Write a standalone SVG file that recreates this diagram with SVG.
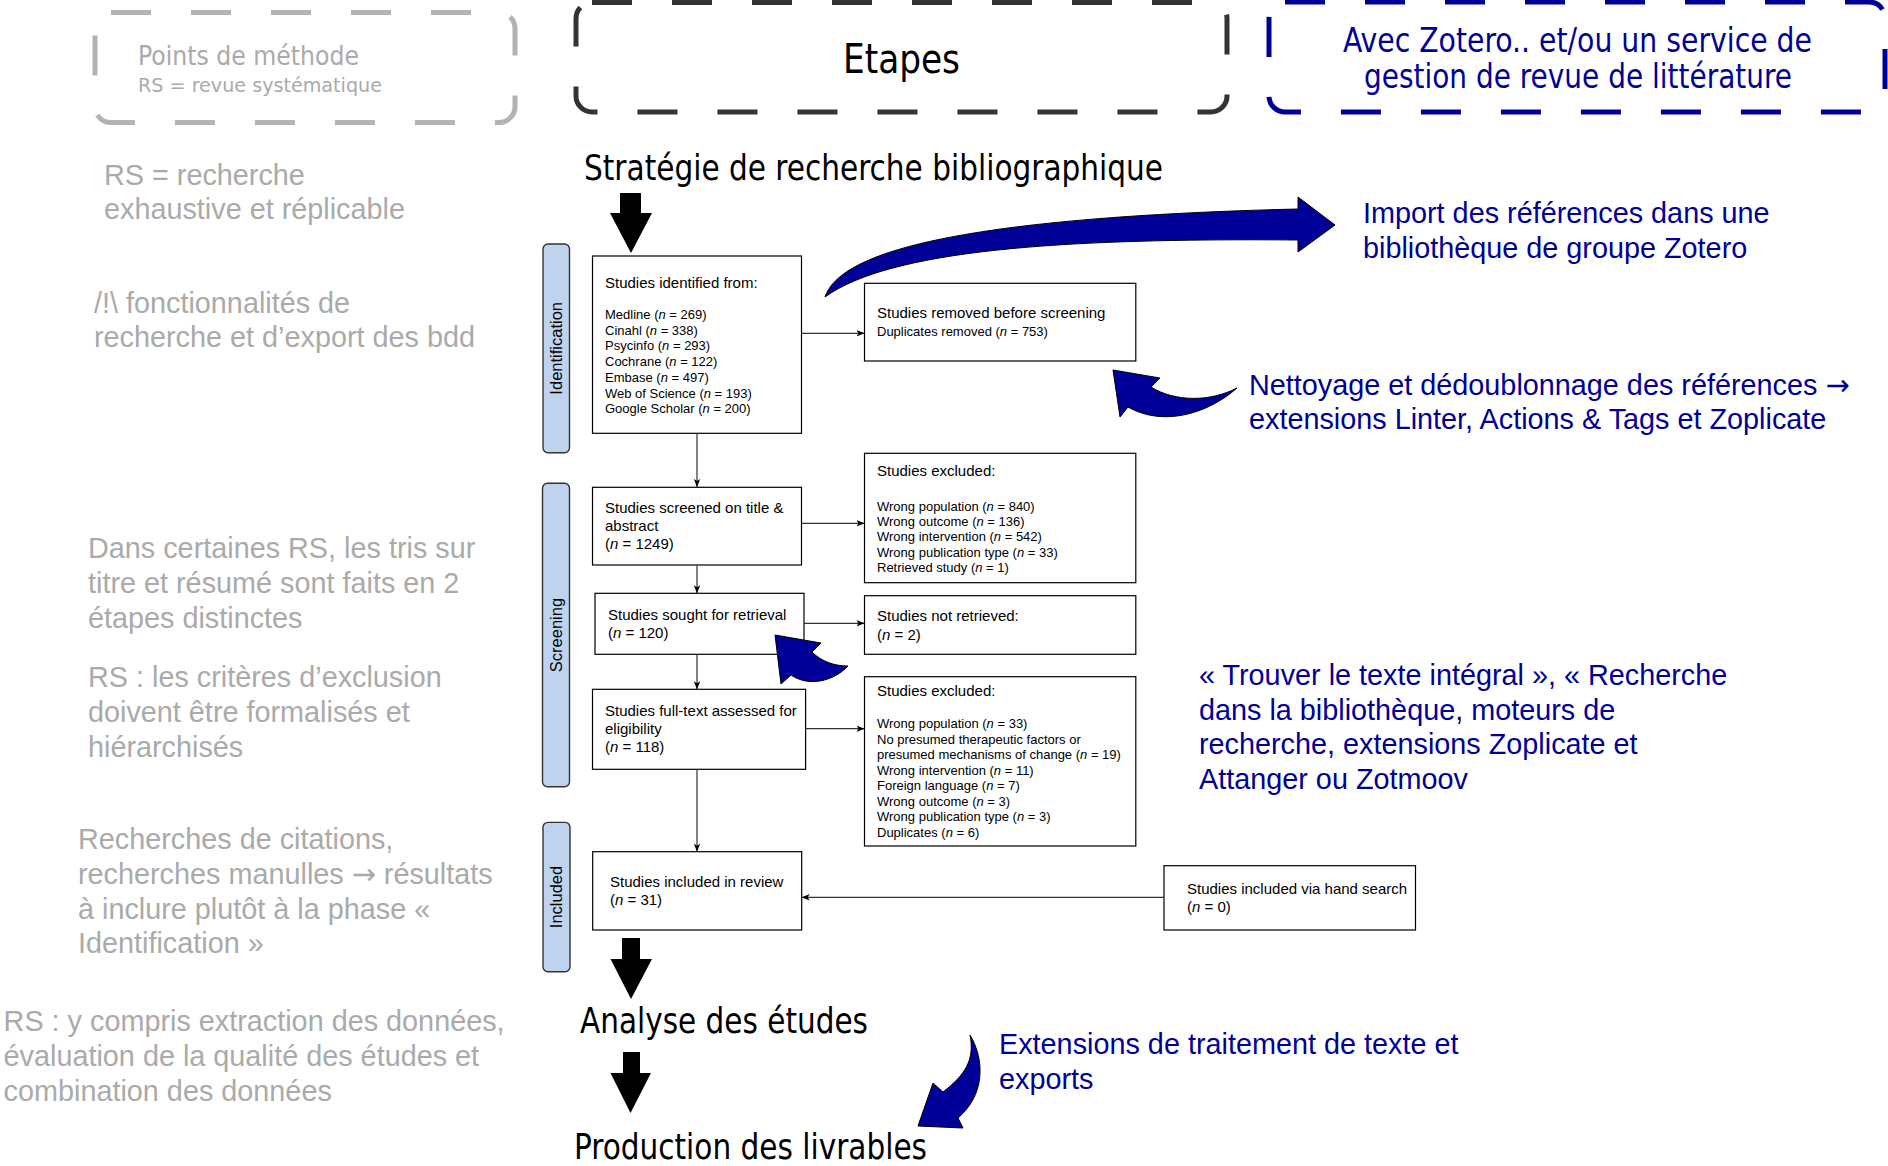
<svg xmlns="http://www.w3.org/2000/svg" width="1888" height="1166" viewBox="0 0 1888 1166">
<defs>
<marker id="ah" viewBox="0 0 10 10" refX="10" refY="5" markerWidth="8" markerHeight="8" markerUnits="userSpaceOnUse" orient="auto">
<path d="M0,1 L10,5 L0,9 L2.5,5 z" fill="#000"/>
</marker>
<style>
.box{fill:#fff;stroke:#000;stroke-width:1.2}
.lbl{fill:#bfd3ee;stroke:#333;stroke-width:1.4}
.ar{font-family:"Liberation Sans",Arial,sans-serif;fill:#000}
.t15{font-size:15px}
.t13{font-size:13px}
.i{font-style:italic}
.gray{font-family:"Liberation Sans",Arial,sans-serif;font-size:28.8px;fill:#aaaaaa}
.blue{font-family:"Liberation Sans",Arial,sans-serif;font-size:28.8px;fill:#000099}
.arr{font-family:"DejaVu Sans",sans-serif}
.cond{font-family:"DejaVu Sans Condensed","DejaVu Sans",sans-serif;font-stretch:condensed}
.dash{fill:none;stroke-width:5;stroke-dasharray:40 40}
.conn{fill:none;stroke:#333;stroke-width:1.2;marker-end:url(#ah)}
.big{fill:#000}
.curv{fill:#000099;stroke:#000;stroke-width:1}
</style>
</defs>

<g id="methode">
<rect class="dash" x="95" y="12.5" width="420" height="110" rx="16" stroke="#b3b3b3"/>
<text class="cond" x="138" y="65" font-size="26" fill="#aaaaaa" textLength="221" lengthAdjust="spacingAndGlyphs">Points de méthode</text>
<text class="cond" x="138" y="92" font-size="20" fill="#aaaaaa" textLength="244" lengthAdjust="spacingAndGlyphs">RS = revue systématique</text>
</g>

<g id="etapes">
<rect class="dash" x="576" y="2.5" width="651" height="109.5" rx="16" stroke="#333333"/>
<text class="cond" x="843" y="73.3" font-size="40" fill="#000" textLength="117" lengthAdjust="spacingAndGlyphs">Etapes</text>
</g>

<g id="zotero">
<rect class="dash" x="1269" y="2" width="616" height="110" rx="16" stroke="#000099"/>
<text class="cond" x="1343" y="52" font-size="33" fill="#000099" textLength="469" lengthAdjust="spacingAndGlyphs">Avec Zotero.. et/ou un service de</text>
<text class="cond" x="1364" y="88" font-size="33" fill="#000099" textLength="428" lengthAdjust="spacingAndGlyphs">gestion de revue de littérature</text>
</g>

<g id="notes-gray">
<text class="gray" x="104" y="185">RS = recherche</text>
<text class="gray" x="104" y="219">exhaustive et réplicable</text>
<text class="gray" x="94" y="313">/!\ fonctionnalités de</text>
<text class="gray" x="94" y="347">recherche et d’export des bdd</text>
<text class="gray" x="88" y="558">Dans certaines RS, les tris sur</text>
<text class="gray" x="88" y="593">titre et résumé sont faits en 2</text>
<text class="gray" x="88" y="628">étapes distinctes</text>
<text class="gray" x="88" y="687">RS : les critères d’exclusion</text>
<text class="gray" x="88" y="722">doivent être formalisés et</text>
<text class="gray" x="88" y="757">hiérarchisés</text>
<text class="gray" x="78" y="849">Recherches de citations,</text>
<text class="gray" x="78" y="884">recherches manulles <tspan class="arr">→</tspan> résultats</text>
<text class="gray" x="78" y="918.5">à inclure plutôt à la phase «</text>
<text class="gray" x="78" y="952.5">Identification »</text>
<text class="gray" x="3.6" y="1031">RS : y compris extraction des données,</text>
<text class="gray" x="3.6" y="1066">évaluation de la qualité des études et</text>
<text class="gray" x="3.6" y="1101">combination des données</text>
</g>

<g id="notes-blue">
<text class="blue" x="1363" y="222.7">Import des références dans une</text>
<text class="blue" x="1363" y="257.5">bibliothèque de groupe Zotero</text>
<text class="blue" x="1249" y="394.5">Nettoyage et dédoublonnage des références <tspan class="arr">→</tspan></text>
<text class="blue" x="1249" y="429">extensions Linter, Actions &amp; Tags et Zoplicate</text>
<text class="blue" x="1199" y="684.5">« Trouver le texte intégral », « Recherche</text>
<text class="blue" x="1199" y="719.5">dans la bibliothèque, moteurs de</text>
<text class="blue" x="1199" y="753.5">recherche, extensions Zoplicate et</text>
<text class="blue" x="1199" y="788.5">Attanger ou Zotmoov</text>
<text class="blue" x="999" y="1054">Extensions de traitement de texte et</text>
<text class="blue" x="999" y="1088.5">exports</text>
</g>

<g id="heading-strategie">
<text class="cond" x="584" y="180" font-size="36" fill="#000" textLength="579" lengthAdjust="spacingAndGlyphs">Stratégie de recherche bibliographique</text>
</g>
<g id="heading-analyse">
<text class="cond" x="580" y="1033" font-size="36" fill="#000" textLength="288" lengthAdjust="spacingAndGlyphs">Analyse des études</text>
</g>
<g id="heading-production">
<text class="cond" x="574" y="1159" font-size="36" fill="#000" textLength="353" lengthAdjust="spacingAndGlyphs">Production des livrables</text>
</g>

<g id="label-identification">
<rect class="lbl" x="543" y="244" width="26.5" height="208.7" rx="5"/>
<text class="ar" text-anchor="middle" transform="translate(562,348.3) rotate(-90)" font-size="16.5">Identification</text>
</g>
<g id="label-screening">
<rect class="lbl" x="542.5" y="483.3" width="27" height="303.4" rx="5"/>
<text class="ar" text-anchor="middle" transform="translate(562,635) rotate(-90)" font-size="16.5">Screening</text>
</g>
<g id="label-included">
<rect class="lbl" x="543" y="822.4" width="27" height="149.3" rx="5"/>
<text class="ar" text-anchor="middle" transform="translate(562,897) rotate(-90)" font-size="16.5">Included</text>
</g>

<g id="box-identified">
<rect class="box" x="592.5" y="256" width="209" height="177.3"/>
<text class="ar t15" x="605" y="287.5">Studies identified from:</text>
<text class="ar t13" x="605" y="319">Medline (<tspan class="i">n</tspan> = 269)</text>
<text class="ar t13" x="605" y="334.7">Cinahl (<tspan class="i">n</tspan> = 338)</text>
<text class="ar t13" x="605" y="350.4">Psycinfo (<tspan class="i">n</tspan> = 293)</text>
<text class="ar t13" x="605" y="366.1">Cochrane (<tspan class="i">n</tspan> = 122)</text>
<text class="ar t13" x="605" y="381.8">Embase (<tspan class="i">n</tspan> = 497)</text>
<text class="ar t13" x="605" y="397.5">Web of Science (<tspan class="i">n</tspan> = 193)</text>
<text class="ar t13" x="605" y="413.2">Google Scholar (<tspan class="i">n</tspan> = 200)</text>
</g>

<g id="box-removed">
<rect class="box" x="864.5" y="283.3" width="271.3" height="77.7"/>
<text class="ar t15" x="877" y="318">Studies removed before screening</text>
<text class="ar t13" x="877" y="335.5">Duplicates removed (<tspan class="i">n</tspan> = 753)</text>
</g>

<g id="box-screened">
<rect class="box" x="592.5" y="487.3" width="209" height="77.7"/>
<text class="ar t15" x="605" y="513">Studies screened on title &amp;</text>
<text class="ar t15" x="605" y="531">abstract</text>
<text class="ar t15" x="605" y="548.5">(<tspan class="i">n</tspan> = 1249)</text>
</g>

<g id="box-excluded1">
<rect class="box" x="864.5" y="453.3" width="271.3" height="129.4"/>
<text class="ar t15" x="877" y="475.5">Studies excluded:</text>
<text class="ar t13" x="877" y="510.5">Wrong population (<tspan class="i">n</tspan> = 840)</text>
<text class="ar t13" x="877" y="525.9">Wrong outcome (<tspan class="i">n</tspan> = 136)</text>
<text class="ar t13" x="877" y="541.3">Wrong intervention (<tspan class="i">n</tspan> = 542)</text>
<text class="ar t13" x="877" y="556.7">Wrong publication type (<tspan class="i">n</tspan> = 33)</text>
<text class="ar t13" x="877" y="572.1">Retrieved study (<tspan class="i">n</tspan> = 1)</text>
</g>

<g id="box-sought">
<rect class="box" x="595" y="593.3" width="209" height="61"/>
<text class="ar t15" x="608" y="619.5">Studies sought for retrieval</text>
<text class="ar t15" x="608" y="638">(<tspan class="i">n</tspan> = 120)</text>
</g>

<g id="box-notretrieved">
<rect class="box" x="864.5" y="595.7" width="271.3" height="58.6"/>
<text class="ar t15" x="877" y="621">Studies not retrieved:</text>
<text class="ar t15" x="877" y="639.5">(<tspan class="i">n</tspan> = 2)</text>
</g>

<g id="box-fulltext">
<rect class="box" x="592.5" y="689.3" width="213.1" height="80"/>
<text class="ar t15" x="605" y="716">Studies full-text assessed for</text>
<text class="ar t15" x="605" y="734">eligibility</text>
<text class="ar t15" x="605" y="752">(<tspan class="i">n</tspan> = 118)</text>
</g>

<g id="box-excluded2">
<rect class="box" x="864.5" y="676.7" width="271.3" height="169.3"/>
<text class="ar t15" x="877" y="696">Studies excluded:</text>
<text class="ar t13" x="877" y="728.2">Wrong population (<tspan class="i">n</tspan> = 33)</text>
<text class="ar t13" x="877" y="743.7">No presumed therapeutic factors or</text>
<text class="ar t13" x="877" y="759.2">presumed mechanisms of change (<tspan class="i">n</tspan> = 19)</text>
<text class="ar t13" x="877" y="774.7">Wrong intervention (<tspan class="i">n</tspan> = 11)</text>
<text class="ar t13" x="877" y="790.2">Foreign language (<tspan class="i">n</tspan> = 7)</text>
<text class="ar t13" x="877" y="805.7">Wrong outcome (<tspan class="i">n</tspan> = 3)</text>
<text class="ar t13" x="877" y="821.2">Wrong publication type (<tspan class="i">n</tspan> = 3)</text>
<text class="ar t13" x="877" y="836.7">Duplicates (<tspan class="i">n</tspan> = 6)</text>
</g>

<g id="box-included">
<rect class="box" x="592.7" y="851.7" width="209" height="78.3"/>
<text class="ar t15" x="610" y="886.5">Studies included in review</text>
<text class="ar t15" x="610" y="904.5">(<tspan class="i">n</tspan> = 31)</text>
</g>

<g id="box-handsearch">
<rect class="box" x="1164" y="865.7" width="251.5" height="64.3"/>
<text class="ar t15" x="1187" y="893.5">Studies included via hand search</text>
<text class="ar t15" x="1187" y="912">(<tspan class="i">n</tspan> = 0)</text>
</g>

<g id="connectors">
<line class="conn" x1="697" y1="433.3" x2="697" y2="487"/>
<line class="conn" x1="697" y1="565" x2="697" y2="593.3"/>
<line class="conn" x1="697" y1="654.3" x2="697" y2="689.3"/>
<line class="conn" x1="697" y1="769.3" x2="697" y2="851.7"/>
<line class="conn" x1="801.5" y1="333.3" x2="864.5" y2="333.3"/>
<line class="conn" x1="801.5" y1="523.3" x2="864.5" y2="523.3"/>
<line class="conn" x1="804" y1="623.3" x2="864.5" y2="623.3"/>
<line class="conn" x1="805.6" y1="728.7" x2="864.5" y2="728.7"/>
<line class="conn" x1="1164" y1="897.3" x2="801.7" y2="897.3"/>
<path class="big" d="M620,193 H641 V213 H652 L631,253 L610,213 H620 Z"/>
<path class="big" d="M622,938 H640 V959 H652 L631,999 L610.5,959 H622 Z"/>
<path class="big" d="M623,1052 H640 V1073 H651 L630.5,1113 L610.5,1073 H623 Z"/>
<path class="curv" d="M825,297 C838,258 930,218 1298,209 L1298,197 L1335,225 L1298,252 L1298,240 C1060,238 890,250 825,297 Z"/>
<path class="curv" d="M1113,370 L1160,378 L1151,387 C1175,402 1210,402 1237,388 C1210,412 1165,428 1128,407 L1120,417 Z"/>
<path class="curv" d="M775,635 L821,643 L812,652 C822,662 835,666 848,666 C835,680 810,688 791,675 L781,684 Z"/>
<path class="curv" d="M970,1035 C985,1060 985,1095 958,1118 L963,1128 L918,1126 L933,1083 L943,1092 C965,1075 975,1060 970,1035 Z"/>
</g>
</svg>
